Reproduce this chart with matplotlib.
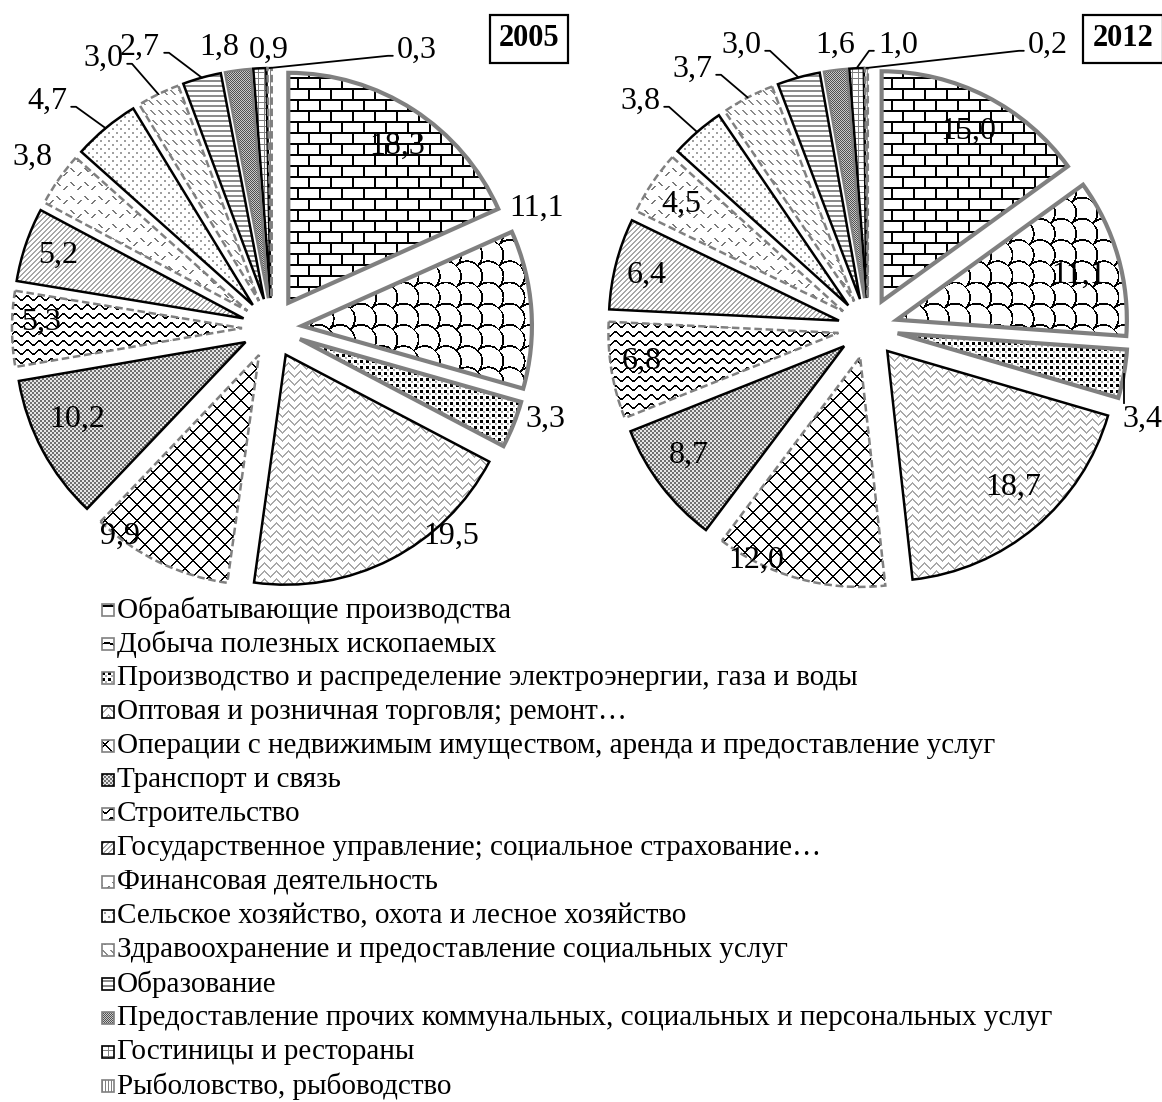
import numpy as np
import matplotlib
matplotlib.use("Agg")
import matplotlib.pyplot as plt
from matplotlib.patches import Rectangle
from matplotlib.colors import to_rgb

plt.rcParams['font.family'] = ['Liberation Serif', 'DejaVu Serif']

# --- data -------------------------------------------------------------
categories = [
    'Обрабатывающие производства',
    'Добыча полезных ископаемых',
    'Производство и распределение электроэнергии, газа и воды',
    'Оптовая и розничная торговля; ремонт…',
    'Операции с недвижимым имуществом, аренда и предоставление услуг',
    'Транспорт и связь',
    'Строительство',
    'Государственное управление; социальное страхование…',
    'Финансовая деятельность',
    'Сельское хозяйство, охота и лесное хозяйство',
    'Здравоохранение и предоставление социальных услуг',
    'Образование',
    'Предоставление прочих коммунальных, социальных и персональных услуг',
    'Гостиницы и рестораны',
    'Рыболовство, рыбоводство',
]
values_2005 = [18.3, 11.1, 3.3, 19.5, 9.9, 10.2, 5.3, 5.2, 3.8, 4.7, 3.0, 2.7, 1.8, 0.9, 0.3]
values_2012 = [15.0, 11.1, 3.4, 18.7, 12.0, 8.7, 6.8, 6.4, 4.5, 3.8, 3.7, 3.0, 1.6, 1.0, 0.2]
years = ['2005', '2012']

# --- layout (pixels of the 1162x1102 canvas) ---------------------------
W, H, DPI = 1162, 1102, 100
R_PX = 230          # pie radius
EXPL = 30 / R_PX    # same explosion for every slice
HALF = 280          # half size of each pie axes
pie_centers = [(272, 328), (868, 328)]
year_boxes = [(529, 39), (1123, 39)]

# label offsets from pie centre, px (x right, y down)
label_offsets = [
    [(125, -182), (265, -120), (273, 91), (179, 208), (-152, 208), (-195, 91),
     (-231, -6), (-214, -73), (-240, -171), (-225, -227), (-169, -270),
     (-132, -281), (-53, -281), (-3, -278), (145, -278)],
    [(100, -197), (210, -53), (274, 91), (145, 159), (-112, 232), (-179, 127),
     (-226, 33), (-221, -53), (-187, -124), (-228, -227), (-176, -259),
     (-127, -283), (-33, -283), (30, -283), (180, -283)],
]
# leader lines: slice index -> side the stub leaves the text from
leaders = [
    {9: 'r', 10: 'r', 11: 'r', 14: 'l'},
    {2: 'v', 9: 'r', 10: 'r', 11: 'r', 13: 'l', 14: 'l'},
]

GRAY = '#808080'
DASH = (0, (3, 1.5))
edge_styles = [
    (GRAY, 3.0, 'solid'), (GRAY, 3.0, 'solid'), (GRAY, 3.0, 'solid'),
    ('k', 1.8, 'solid'), (GRAY, 1.8, DASH), ('k', 1.8, 'solid'),
    (GRAY, 1.8, DASH), ('k', 1.8, 'solid'), (GRAY, 1.8, DASH),
    ('k', 1.8, 'solid'), (GRAY, 1.8, DASH), ('k', 1.8, 'solid'),
    (GRAY, 1.8, 'solid'), ('k', 1.8, 'solid'), (GRAY, 1.8, DASH),
]


# --- fill patterns (built on canvas pixel coordinates) ------------------
def paint(mask, ink, bg='white'):
    out = np.empty(mask.shape + (3,))
    out[:] = to_rgb(bg)
    out[mask] = to_rgb(ink)
    return out


def pattern(i, xx, yy):
    if i == 0:      # bricks
        row = yy // 11
        m = (yy % 11 < 2) | ((xx + (row % 2) * 11) % 22 < 2)
        return paint(m, 'black')
    if i == 1:      # shingles, diagonal scales
        u = (xx + yy) / np.sqrt(2)
        v = (yy - xx) / np.sqrt(2)
        pw, ph = 30.0, 15.0
        row = np.floor(v / ph)
        xo = np.mod(u + (row % 2) * pw / 2, pw) - pw / 2
        yo = v - (row + 1) * ph
        m = np.abs(np.hypot(xo, yo) - pw / 2) < 0.9
        return paint(m, 'black')
    if i == 2:      # large dots
        big = (xx % 6 < 3) & (yy % 6 < 3)
        small = ((xx + 3) % 6 < 2) & ((yy + 3) % 6 < 2)
        out = paint(small, '#b0b0b0')
        out[big] = 0
        return out
    if i == 3:      # zigzag
        tri = np.abs(xx % 12 - 6)
        return paint((yy + tri) % 8 < 2, '#a8a8a8')
    if i == 4:      # diamond lattice
        m = ((xx + yy) % 16 < 2) | ((xx - yy) % 16 < 2)
        return paint(m, 'black')
    if i == 5:      # checker
        return paint((xx // 2 + yy // 2) % 2 == 0, '#707070', '#e6e6e6')
    if i == 6:      # waves
        wy = yy + np.round(2.5 * np.sin(2 * np.pi * xx / 12)).astype(int)
        return paint(wy % 9 < 2, 'black')
    if i == 7:      # upward diagonal
        return paint((xx + yy) % 5 < 2, '#a8a8a8')
    if i == 8:      # divots
        a = ((xx - yy) % 14 < 2) & (yy % 14 < 4)
        b = ((xx + yy) % 14 < 2) & (yy % 14 >= 4) & (yy % 14 < 8)
        return paint(a | b, '#7a7a7a')
    if i == 9:      # fine dots
        m = (xx % 4 < 2) & (yy % 4 < 2) & ((xx // 4 + yy // 4) % 2 == 0)
        return paint(m, '#a0a0a0')
    if i == 10:     # dashed downward diagonal
        m = ((xx - yy) % 8 < 2) & (yy % 10 < 5)
        return paint(m, '#8a8a8a')
    if i == 11:     # horizontal stripes
        return paint(yy % 5 < 2, '#8c8c8c')
    if i == 12:     # dense dark checker
        return paint((xx + yy) % 2 == 0, '#505050', '#c8c8c8')
    if i == 13:     # small grid
        return paint((xx % 6 == 0) | (yy % 6 == 0), '#808080')
    return paint(xx % 3 == 0, '#808080')   # vertical lines


def fmt(v):
    return f'{v:.1f}'.replace('.', ',')


fig = plt.figure(figsize=(W / DPI, H / DPI), dpi=DPI)
lim = HALF / R_PX

for k, values in enumerate([values_2005, values_2012]):
    cx, cy = pie_centers[k]
    ax = fig.add_axes([(cx - HALF) / W, (H - cy - HALF) / H, 2 * HALF / W, 2 * HALF / H])
    wedges, _ = ax.pie(values, startangle=90, counterclock=False, radius=1,
                       explode=[EXPL] * len(values),
                       wedgeprops=dict(facecolor='none'))
    ax.set_xlim(-lim, lim)
    ax.set_ylim(-lim, lim)
    ax.axis('off')
    ax.patch.set_visible(False)

    gx = np.arange(cx - HALF, cx + HALF)
    gy = np.arange(cy - HALF, cy + HALF)
    xx, yy = np.meshgrid(gx, gy)

    for i, w in enumerate(wedges):
        ec, lw, ls = edge_styles[i]
        w.set_edgecolor(ec)
        w.set_linewidth(lw)
        w.set_linestyle(ls)
        w.set_zorder(3)
        im = ax.imshow(pattern(i, xx, yy), extent=(-lim, lim, -lim, lim),
                       origin='upper', interpolation='nearest', zorder=2,
                       aspect='auto')
        im.set_clip_path(w)

    for i, w in enumerate(wedges):
        dx, dy = label_offsets[k][i]
        pos = (dx / R_PX, -dy / R_PX)
        mid = np.radians((w.theta1 + w.theta2) / 2)
        arc = (w.center[0] + w.r * np.cos(mid), w.center[1] + w.r * np.sin(mid))
        side = leaders[k].get(i)
        if side in ('r', 'l'):
            ang = 0 if side == 'r' else 180
            ax.annotate(fmt(values[i]), xy=arc, xytext=pos, fontsize=23,
                        ha='center', va='center', zorder=5,
                        arrowprops=dict(arrowstyle='-', lw=1.3, color='k',
                                        shrinkA=1, shrinkB=0,
                                        relpos=(1 if side == 'r' else 0, 0.3),
                                        connectionstyle=f'arc,angleA={ang},angleB=0,armA=9,armB=0,rad=0'))
        else:
            ax.text(*pos, fmt(values[i]), fontsize=23, ha='center', va='center', zorder=5)
            if side == 'v':
                ax.plot([arc[0], arc[0]], [arc[1], pos[1] + 0.07], color='k', lw=1.3, zorder=5)

    bx, by = year_boxes[k]
    fig.text(bx / W, 1 - by / H, years[k], fontsize=22, fontweight='bold',
             ha='center', va='center',
             bbox=dict(boxstyle='square,pad=0.3', fc='white', ec='black', lw=1.6))

# --- legend --------------------------------------------------------------
lax = fig.add_axes([0, 0, 1, 1])
lax.set_xlim(0, W)
lax.set_ylim(H, 0)
lax.axis('off')
lax.patch.set_visible(False)
row0, step = 610, 34.0
for i, name in enumerate(categories):
    yc = row0 + i * step
    mx, my = np.meshgrid(np.arange(102, 114), np.arange(int(yc) - 6, int(yc) + 6))
    lax.imshow(pattern(i, mx, my), extent=(102, 114, yc + 6, yc - 6),
               origin='upper', interpolation='nearest', aspect='auto')
    ec = edge_styles[i][0]
    lax.add_patch(Rectangle((102, yc - 6), 12, 12, fill=False, ec=ec, lw=1.2))
    lax.text(117, yc, name, fontsize=21, ha='left', va='center')

fig.savefig('out.png', dpi=DPI)
